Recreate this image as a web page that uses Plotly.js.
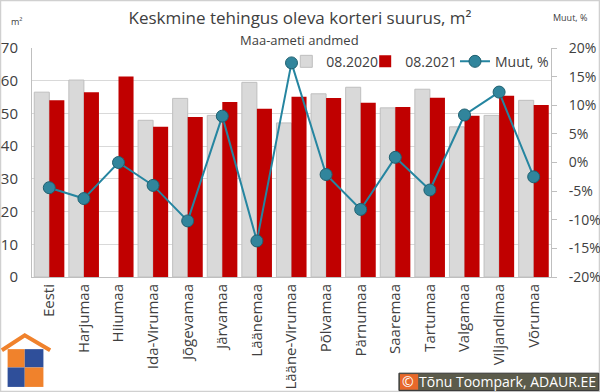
<!DOCTYPE html>
<html>
<head>
<meta charset="utf-8">
<script src="https://cdn.plot.ly/plotly-3.0.1.min.js"></script>
<style>html,body{margin:0;padding:0;background:#fff;}#chart{width:600px;height:392px;}</style>
</head>
<body>
<div id="chart"></div>
<script>
const categories = ["Eesti","Harjumaa","Hiiumaa","Ida-Virumaa","Jõgevamaa","Järvamaa","Läänemaa","Lääne-Virumaa","Põlvamaa","Pärnumaa","Saaremaa","Tartumaa","Valgamaa","Viljandimaa","Võrumaa"];
const size2020 = [56.5, 60.2, null, 47.9, 54.6, 49.4, 59.5, 47.1, 56.0, 58.0, 51.7, 57.4, 45.9, 49.4, 54.0];
const size2021 = [54.0, 56.5, 61.3, 45.9, 48.9, 53.5, 51.4, 55.1, 54.7, 53.3, 52.0, 54.8, 49.3, 55.4, 52.6];
const changePct = [-4.4, -6.3, 0.0, -4.0, -10.2, 8.1, -13.7, 17.4, -2.1, -8.2, 0.9, -4.8, 8.3, 12.3, -2.5];
const leftTicks = [0, 10, 20, 30, 40, 50, 60, 70];
const rightTickVals = [-20, -15, -10, -5, 0, 5, 10, 15, 20];
const rightTickText = ["-20%", "-15%", "-10%", "-5%", "0%", "5%", "10%", "15%", "20%"];

const FONT = "Open Sans, Noto Sans, sans-serif";
const TXT = "#404040";

const traces = [
  {type:"bar", name:"08.2020", x:categories, y:size2020, legend:"legend",
   marker:{color:"#d9d9d9", line:{color:"#bfbfbf", width:1}}},
  {type:"bar", name:"08.2021", x:categories, y:size2021, legend:"legend2",
   marker:{color:"#c00000", line:{color:"#c00000", width:0}}},
  {type:"scatter", mode:"lines+markers", name:"Muut, %", x:categories, y:changePct, yaxis:"y2", legend:"legend3",
   line:{color:"#2585a0", width:2},
   marker:{color:"#31859c", size:12, line:{color:"#1f6070", width:1}}}
];

const legendBase = {orientation:"h", xanchor:"left", y:0.94, yanchor:"middle",
                    bgcolor:"rgba(0,0,0,0)", font:{size:14, color:TXT}, itemwidth:30};

const layout = {
  width:600, height:392,
  margin:{l:32, r:49, t:48, b:115},
  paper_bgcolor:"#fff", plot_bgcolor:"#fff",
  font:{family:FONT, color:TXT},
  barmode:"group", bargap:0.13, bargroupgap:0,
  showlegend:true,
  legend:Object.assign({}, legendBase, {x:0.49}),
  legend2:Object.assign({}, legendBase, {x:0.642}),
  legend3:Object.assign({}, legendBase, {x:0.815}),
  xaxis:{type:"category", range:[-0.5, 14.5], tickangle:-90, tickfont:{size:15, color:TXT},
         showline:true, linecolor:"#bfbfbf", linewidth:1, ticks:"", showgrid:false, fixedrange:true},
  yaxis:{range:[0,70], tickvals:leftTicks, showgrid:true, gridcolor:"#d9d9d9", gridwidth:1,
         showline:true, linecolor:"#bfbfbf", zeroline:false, ticks:"", ticklabelstandoff:10,
         tickfont:{size:15, color:TXT}},
  yaxis2:{overlaying:"y", side:"right", range:[-20,20], tickvals:rightTickVals, ticktext:rightTickText,
          showgrid:false, zeroline:false, showline:true, linecolor:"#bfbfbf",
          ticks:"outside", ticklen:5, tickcolor:"#bfbfbf", ticklabelstandoff:9,
          tickfont:{size:14, color:TXT}},
  title:{text:"Keskmine tehingus oleva korteri suurus, m²", x:0.5, xref:"container", xanchor:"center",
         y:0.955, yref:"container", yanchor:"middle", font:{size:17, color:TXT, family:FONT}},
  annotations:[
    {text:"Maa-ameti andmed", xref:"paper", yref:"paper", x:0.516, y:1.035, xanchor:"center", yanchor:"middle",
     showarrow:false, font:{size:13, color:TXT}},
    {text:"m²", xref:"paper", yref:"paper", x:-0.03, y:1.115, xanchor:"center", yanchor:"middle",
     showarrow:false, font:{size:9, color:TXT}},
    {text:"Muut, %", xref:"paper", yref:"paper", x:1.037, y:1.135, xanchor:"center", yanchor:"middle",
     showarrow:false, font:{size:9, color:TXT}},
    {text:"©", xref:"paper", yref:"paper", x:0.7245, y:-0.458, xanchor:"center", yanchor:"middle",
     showarrow:false, font:{size:14, color:"#fff"}},
    {text:"Tõnu Toompark, ADAUR.EE", xref:"paper", yref:"paper", x:0.917, y:-0.458, xanchor:"center", yanchor:"middle",
     showarrow:false, font:{size:14, color:"#fff"}}
  ],
  shapes:[
    {type:"rect", xref:"paper", yref:"paper", x0:0.18, x1:0.85, y0:0.99, y1:1.04, fillcolor:"#fff", line:{width:0}, layer:"above"},
    {type:"rect", xref:"paper", yref:"paper", x0:-0.0607, x1:1.0934, y0:-0.5, y1:1.207, fillcolor:"rgba(0,0,0,0)", line:{color:"#d0d0d0", width:1.5}, layer:"below"},
    {type:"rect", xref:"paper", yref:"paper", x0:0.707, x1:1.092, y0:-0.496, y1:-0.42, fillcolor:"#5b5b4b", line:{color:"#333", width:1}},
    {type:"rect", xref:"paper", yref:"paper", x0:0.709, x1:0.744, y0:-0.492, y1:-0.424, fillcolor:"#e8682a", line:{width:0}},
    {type:"path", xref:"paper", yref:"paper", path:"M -0.058 -0.32 L -0.014 -0.255 L 0.035 -0.32", line:{color:"#f0822c", width:4}},
    {type:"rect", xref:"paper", yref:"paper", x0:-0.047, x1:-0.014, y0:-0.395, y1:-0.315, fillcolor:"#f0822c", line:{width:0}},
    {type:"rect", xref:"paper", yref:"paper", x0:-0.014, x1:0.022, y0:-0.395, y1:-0.315, fillcolor:"#2f4f9a", line:{width:0}},
    {type:"rect", xref:"paper", yref:"paper", x0:-0.047, x1:-0.014, y0:-0.48, y1:-0.395, fillcolor:"#2f4f9a", line:{width:0}},
    {type:"rect", xref:"paper", yref:"paper", x0:-0.014, x1:0.022, y0:-0.48, y1:-0.395, fillcolor:"#f0822c", line:{width:0}}
  ]
};

Plotly.newPlot("chart", traces, layout, {displayModeBar:false, staticPlot:true});
</script>
</body>
</html>
